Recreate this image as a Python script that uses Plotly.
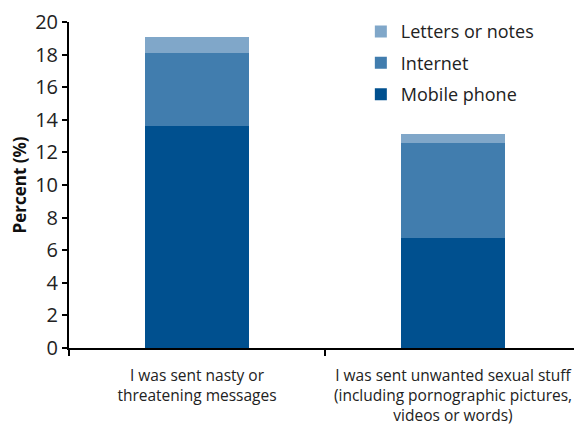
import plotly.graph_objects as go

categories = [
    "I was sent nasty or<br>threatening messages",
    "I was sent unwanted sexual stuff<br>(including pornographic pictures,<br>videos or words)",
]
mobile_phone = [13.6, 6.75]
internet = [4.5, 5.8]
letters_or_notes = [0.95, 0.6]

y_ticks = list(range(0, 21, 2))

colours = {
    "Mobile phone": "#00508f",
    "Internet": "#417dae",
    "Letters or notes": "#80a7c9",
}

fig = go.Figure()
series = [("Mobile phone", mobile_phone), ("Internet", internet),
          ("Letters or notes", letters_or_notes)]
for rank, (name, vals) in enumerate(series):
    fig.add_trace(go.Bar(
        x=categories, y=vals, name=name, legendgroup=name,
        legendrank=1000 - rank,  # top of the stack first in the legend
        marker=dict(color=colours[name], line=dict(width=0)),
        width=0.41,
    ))

# page has an 8px body margin, so margins are shifted to compensate
fig.update_layout(
    barmode="stack",
    width=582, height=428,
    margin=dict(l=61, r=9, t=14, b=88, autoexpand=False),
    paper_bgcolor="white", plot_bgcolor="white",
    font=dict(family="Open Sans, Noto Sans, sans-serif", color="#222"),
    legend=dict(
        x=0.57, y=1.027, xanchor="left", yanchor="top",
        font=dict(size=18, color="#222"),
        traceorder="grouped",
        tracegroupgap=5,
        itemwidth=30,
        bgcolor="rgba(0,0,0,0)",
    ),
    showlegend=True,
)
fig.update_xaxes(
    showline=True, linecolor="black", linewidth=2,
    ticks="outside", tickson="boundaries", ticklen=6, tickcolor="black", tickwidth=1.5,
    tickfont=dict(size=15.5, color="#222"),
    ticklabelstandoff=12,
    range=[-0.5, 1.5], automargin=False,
)
fig.update_yaxes(
    range=[0, 20], tickvals=y_ticks,
    showline=True, linecolor="black", linewidth=2,
    ticks="outside", ticklen=5, tickcolor="black", tickwidth=1.5,
    showgrid=False, zeroline=False, automargin=False,
    tickfont=dict(size=20, color="#222"),
    title=dict(text="<b>Percent (%)</b>", font=dict(size=17, color="#111"), standoff=6),
)

fig.write_html("out.html")
